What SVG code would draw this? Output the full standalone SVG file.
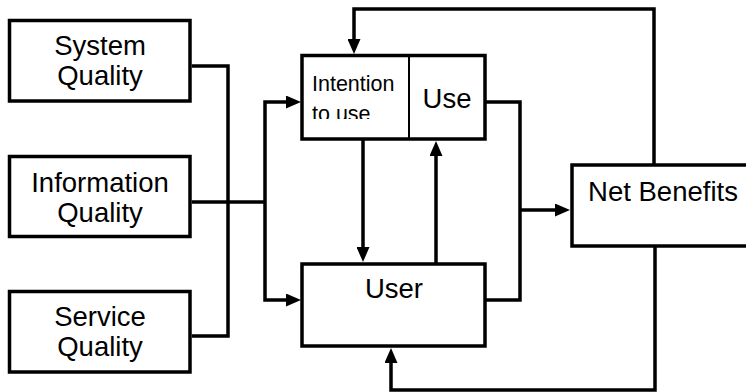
<svg xmlns="http://www.w3.org/2000/svg" width="746" height="392" viewBox="0 0 746 392">
<style>
.box{fill:#fff;stroke:#000;stroke-width:3.5}
.t{font-family:"Liberation Sans",Arial,sans-serif;font-size:27.5px;fill:#000;text-anchor:middle}
.ts{font-family:"Liberation Sans",Arial,sans-serif;font-size:21.5px;fill:#000}
.c{fill:none;stroke:#000;stroke-width:3.5;stroke-linejoin:miter}
.a{marker-end:url(#arr)}
</style>
<defs>
<marker id="arr" viewBox="0 0 15 13" refX="5" refY="6.5" markerWidth="15" markerHeight="13" markerUnits="userSpaceOnUse" orient="auto">
<path d="M0,0 L15,6.5 L0,13 Z" fill="#000"/>
</marker>
<clipPath id="clipInt"><rect x="304" y="57" width="103" height="62"/></clipPath>
</defs>
<rect width="746" height="392" fill="#fff"/>
<g id="connectors">
<path class="c" d="M191.75,66 H228 V336 H191.75"/>
<path class="c" d="M191.75,202 H265"/>
<path class="c a" d="M265,202 V102 H291"/>
<path class="c a" d="M265,202 V300 H291"/>
<path class="c a" d="M654,165 V9 H354 V44"/>
<path class="c a" d="M363,139 V252"/>
<path class="c a" d="M436,264 V151"/>
<path class="c" d="M485,102 H520 V300 H485"/>
<path class="c a" d="M520,210 H560"/>
<path class="c a" d="M655,246 V390 H391 V358"/>
</g>
<g id="system-quality">
<rect class="box" x="9.5" y="20.5" width="180.5" height="80.5"/>
<text class="t" x="100" y="55">System</text>
<text class="t" x="100" y="85">Quality</text>
</g>
<g id="information-quality">
<rect class="box" x="9.5" y="156.5" width="180.5" height="80"/>
<text class="t" x="100" y="192">Information</text>
<text class="t" x="100" y="222">Quality</text>
</g>
<g id="service-quality">
<rect class="box" x="9.5" y="291.5" width="180.5" height="80.5"/>
<text class="t" x="100" y="326">Service</text>
<text class="t" x="100" y="356">Quality</text>
</g>
<g id="intention-use">
<rect class="box" x="302" y="55.5" width="183" height="83.5"/>
<line x1="409" y1="55.5" x2="409" y2="139" stroke="#000" stroke-width="2"/>
<g clip-path="url(#clipInt)">
<text class="ts" x="312" y="90.5">Intention</text>
<text class="ts" x="312" y="120.5">to use</text>
</g>
<text class="t" x="447" y="108">Use</text>
</g>
<g id="user">
<rect class="box" x="302" y="264" width="183" height="82"/>
<text class="t" x="394" y="298">User</text>
</g>
<g id="net-benefits">
<rect class="box" x="572" y="165" width="190" height="81"/>
<text class="t" x="663" y="201">Net Benefits</text>
</g>
</svg>
